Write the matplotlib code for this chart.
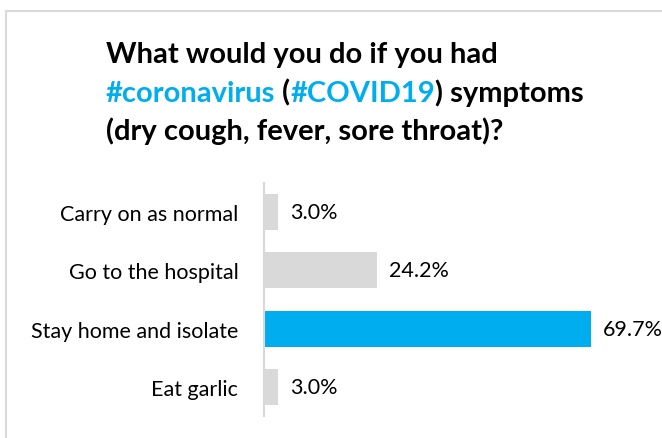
import matplotlib.pyplot as plt
from matplotlib.patches import Rectangle
from matplotlib.offsetbox import TextArea, HPacker, AnchoredOffsetbox

# chart data
categories = ['Carry on as normal', 'Go to the hospital', 'Stay home and isolate', 'Eat garlic']
values = [3.0, 24.2, 69.7, 3.0]
highlight = 'Stay home and isolate'

blue = '#00aeef'
grey = '#d9d9d9'
font = 'Lato'

plt.rcParams['font.family'] = [font, 'DejaVu Sans']

fig = plt.figure(figsize=(6.62, 4.39), dpi=100)
W, H = 662, 439

# light frame around the chart, running off the right and bottom edges
fig.patches.append(Rectangle((6 / W, -0.1), 1, (H - 12) / H + 0.1, transform=fig.transFigure,
                             fill=False, edgecolor=grey, linewidth=1.5))

ax = fig.add_axes([264 / W, 22 / H, 375 / W, 233 / H])
y_pos = range(len(categories))
colors = [blue if c == highlight else grey for c in categories]
bars = ax.barh(y_pos, values, height=0.62, color=colors)
ax.set_ylim(len(categories) - 0.5, -0.5)
ax.set_xlim(0, 80)
ax.set_yticks(list(y_pos))
ax.set_yticklabels(categories, fontsize=15.5)
ax.tick_params(axis='y', length=0, pad=18.5)
ax.set_xticks([])
for side in ['top', 'right', 'bottom']:
    ax.spines[side].set_visible(False)
ax.spines['left'].set_color(grey)
ax.spines['left'].set_linewidth(1.5)

for bar, v in zip(bars, values):
    ax.annotate(f'{v:.1f}%', (bar.get_width(), bar.get_y() + bar.get_height() / 2),
                xytext=(12, 0), textcoords='offset pixels',
                ha='left', va='center', fontsize=15.5, annotation_clip=False)

# title with coloured hashtags
title_size = 21
def part(s, c='black'):
    return TextArea(s, textprops=dict(color=c, fontsize=title_size, fontweight='bold', family=font))

lines = [
    [('What would you do if you had', 'black')],
    [('#coronavirus', blue), (' (', 'black'), ('#COVID19', blue), (') symptoms', 'black')],
    [('(dry cough, fever, sore throat)?', 'black')],
]
for i, line in enumerate(lines):
    box = HPacker(children=[part(s, c) for s, c in line], align='baseline', pad=0, sep=0)
    ab = AnchoredOffsetbox(loc='center left', child=box, pad=0, frameon=False,
                           bbox_to_anchor=(106 / W, (H - 55 - 38 * i) / H),
                           bbox_transform=fig.transFigure, borderpad=0)
    fig.add_artist(ab)

fig.savefig('out.png', dpi=100)
